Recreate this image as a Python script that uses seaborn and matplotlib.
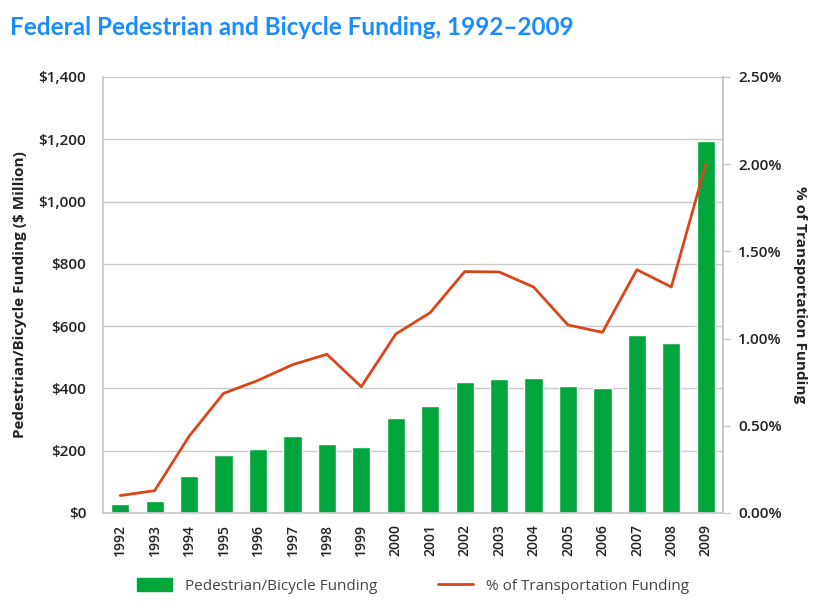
import matplotlib.pyplot as plt
import matplotlib.ticker as mticker
import numpy as np
import pandas as pd
import seaborn as sns

# Data
years = [str(y) for y in range(1992, 2010)]
funding_musd = [28, 40, 120, 185, 205, 246, 223, 211, 304, 345,
                422, 429, 433, 407, 400, 571, 547, 1195]
pct_transport = [0.10, 0.128, 0.44, 0.686, 0.76, 0.85, 0.91, 0.724, 1.026, 1.149,
                 1.384, 1.382, 1.296, 1.078, 1.036, 1.395, 1.296, 2.00]

BAR_GREEN = "#00a63c"
LINE_RED = "#d9461a"
TITLE_BLUE = "#1a8cff"
GRID_GRAY = "#c8c8c8"

sns.set_theme(style="white")
plt.rcParams["font.family"] = ["Open Sans", "DejaVu Sans"]

df = pd.DataFrame({"year": years, "funding": funding_musd, "pct": pct_transport})
df["pos"] = np.arange(len(df))

fig = plt.figure(figsize=(8.26, 6.12), dpi=100)
ax = fig.add_axes([0.1247, 0.1618, 0.7506, 0.7124])

sns.barplot(data=df, x="year", y="funding", color=BAR_GREEN, width=0.53,
            saturation=1, ax=ax, zorder=2)
ax.set_xlim(-0.5, len(df) - 0.5)
ax.set_ylim(0, 1400)
ax.yaxis.set_major_locator(mticker.MultipleLocator(200))
ax.yaxis.set_major_formatter(mticker.FuncFormatter(lambda v, _: f"${v:,.0f}"))
ax.grid(axis="y", color=GRID_GRAY, linewidth=1, zorder=0)
ax.set_axisbelow(True)
ax.set_xlabel("")
ax.set_ylabel("Pedestrian/Bicycle Funding ($ Million)", fontsize=11,
              fontweight="bold", color="#222222", labelpad=8)
ax.tick_params(axis="y", labelsize=11, colors="#222222", length=0, pad=12)
ax.tick_params(axis="x", labelsize=10, colors="#222222", rotation=90,
               length=0, pad=8)
for lab in ax.get_yticklabels() + ax.get_xticklabels():
    lab.set_fontweight("semibold")

# category separator ticks on x axis
ax.set_xticks(np.arange(-0.5, len(df), 1), minor=True)
ax.tick_params(axis="x", which="minor", length=5, color=GRID_GRAY, width=1)

ax.spines["top"].set_visible(False)
ax.spines["left"].set_color(GRID_GRAY)
ax.spines["right"].set_color(GRID_GRAY)
ax.spines["bottom"].set_color(GRID_GRAY)

ax2 = ax.twinx()
sns.lineplot(data=df, x="pos", y="pct", color=LINE_RED, linewidth=2, ax=ax2,
             zorder=3)
ax2.set_ylim(0, 2.5)
ax2.yaxis.set_major_locator(mticker.MultipleLocator(0.5))
ax2.yaxis.set_major_formatter(mticker.FuncFormatter(lambda v, _: f"{v:.2f}%"))
ax2.set_ylabel("% of Transportation Funding", fontsize=11, fontweight="bold",
               color="#222222", rotation=-90, labelpad=18)
ax2.tick_params(axis="y", labelsize=11, colors="#222222", length=5, width=1,
                pad=6)
ax2.tick_params(axis="y", color=GRID_GRAY)
for lab in ax2.get_yticklabels():
    lab.set_fontweight("semibold")
for side in ["top", "left", "bottom"]:
    ax2.spines[side].set_visible(False)
ax2.spines["right"].set_color(GRID_GRAY)
ax2.set_xlim(-0.5, len(df) - 0.5)

fig.text(0.012, 0.955, "Federal Pedestrian and Bicycle Funding, 1992\u20132009",
         fontsize=17.5, fontweight="bold", color=TITLE_BLUE, ha="left",
         va="center", family=["Lato", "DejaVu Sans"])

handles = [
    plt.Rectangle((0, 0), 1, 1, color=BAR_GREEN),
    plt.Line2D([0], [0], color=LINE_RED, linewidth=2),
]
fig.legend(handles, ["Pedestrian/Bicycle Funding", "% of Transportation Funding"],
           loc="center", bbox_to_anchor=(0.5, 0.043), ncol=2, frameon=False,
           fontsize=11, labelcolor="#444444", columnspacing=4,
           handlelength=2.3, handleheight=1.0)

fig.savefig("out.png", dpi=100)
